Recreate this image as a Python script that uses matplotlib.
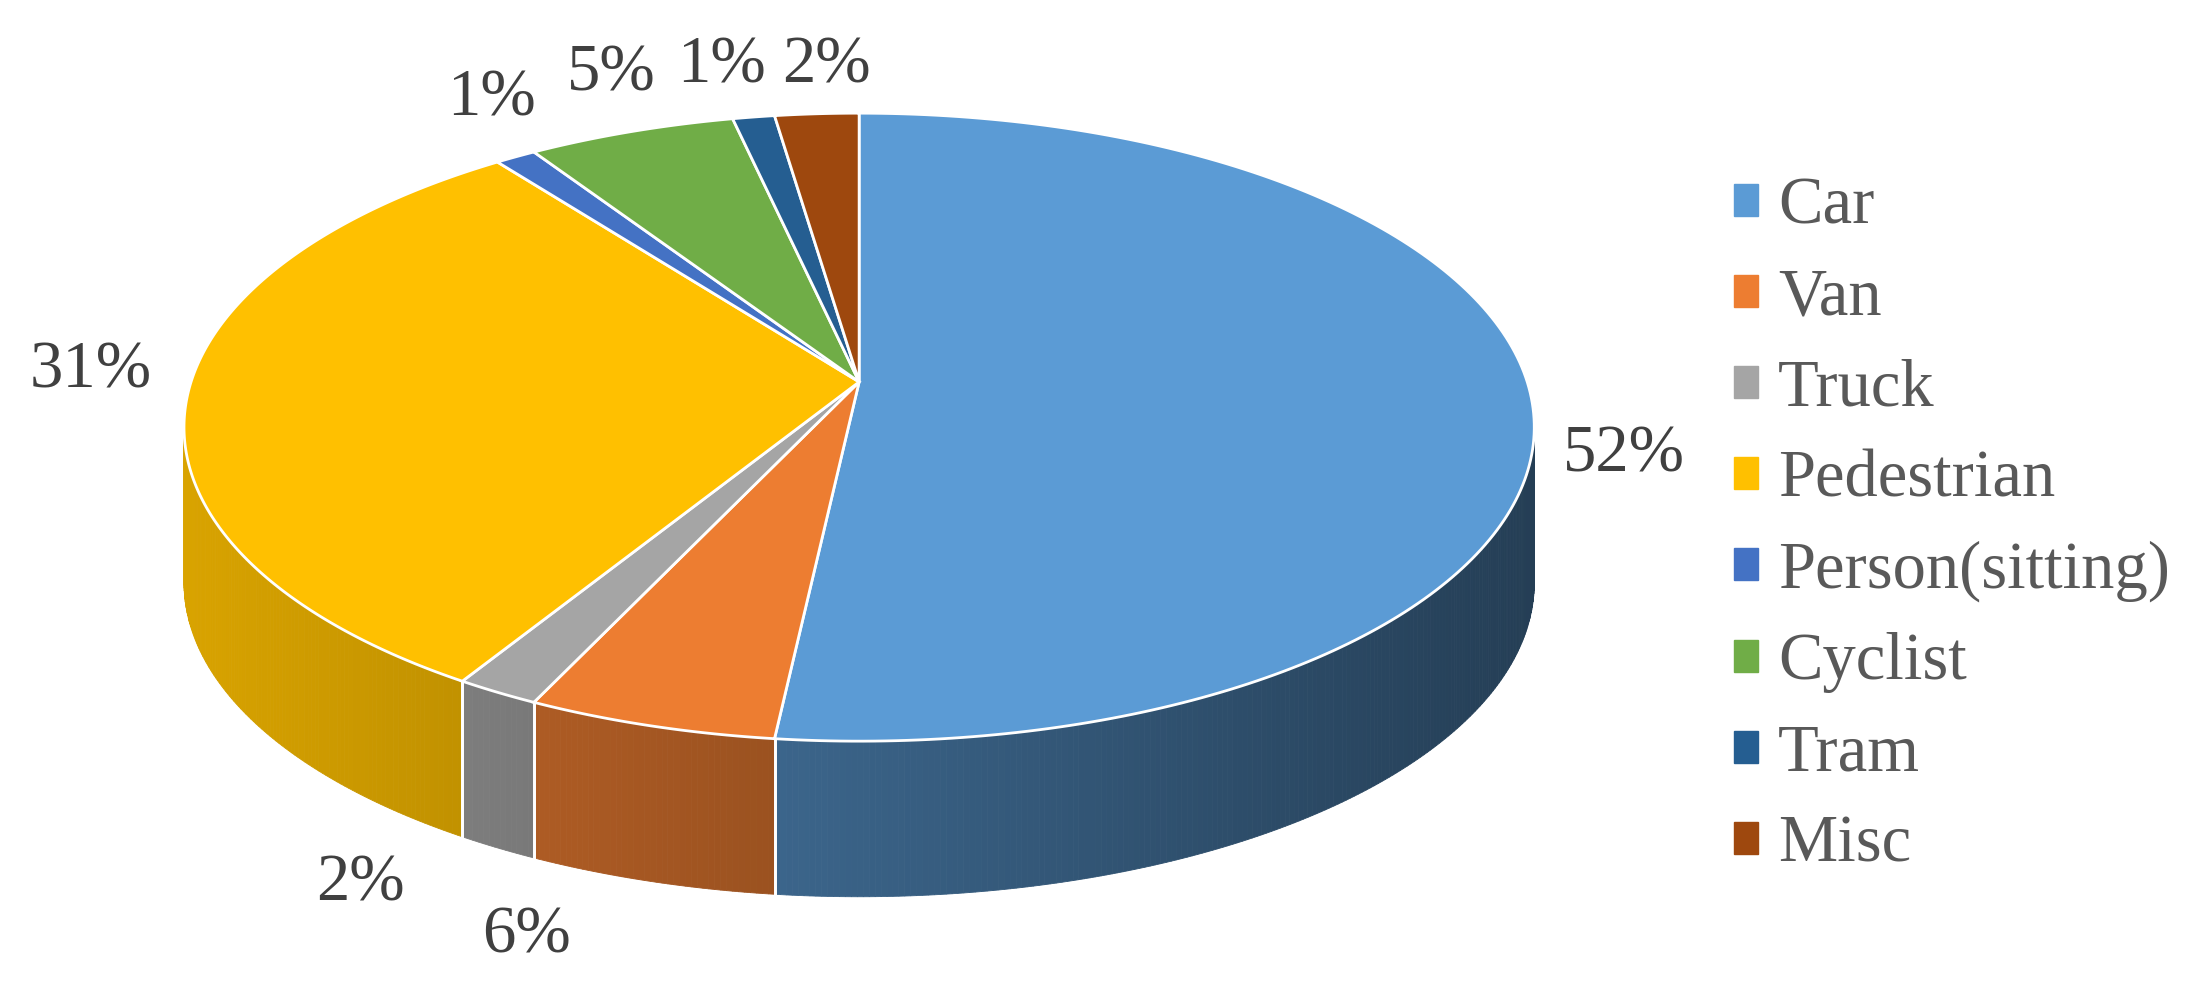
import matplotlib.pyplot as plt
import matplotlib.patches as mpatches
import numpy as np
import matplotlib.colors as mc

labels = ['Car', 'Van', 'Truck', 'Pedestrian', 'Person(sitting)', 'Cyclist', 'Tram', 'Misc']
shares = [52, 6, 2, 31, 1, 5, 1, 2]
colors = ['#5b9bd5', '#ed7d31', '#a5a5a5', '#ffc000', '#4472c4', '#70ad47', '#255e91', '#9e480e']

plt.rcParams['font.family'] = ['Liberation Serif', 'DejaVu Serif']

W, H = 1560, 707
cx, cy, rx, ry, depth = 607, 302, 477, 222, 110
apex = (607, 270)

fig = plt.figure(figsize=(22.08, 10), dpi=100)
ax = fig.add_axes([0, 0, 1, 1])
ax.set_xlim(0, W)
ax.set_ylim(H, 0)
ax.axis('off')

def pt(t, d=0.0):
    r = np.radians(t)
    return cx + rx * np.sin(r), cy - ry * np.cos(r) + d

total = sum(shares)
bounds = np.concatenate([[0], np.cumsum(shares)]) / total * 360

# side walls, front half only
for i, c in enumerate(colors):
    a0, a1 = max(bounds[i], 90), min(bounds[i + 1], 270)
    if a1 <= a0:
        continue
    ts = np.linspace(a0, a1, max(2, int((a1 - a0) * 2)))
    base = np.array(mc.to_rgb(c))
    for t0, t1 in zip(ts[:-1], ts[1:]):
        x0, y0 = pt(t0)
        x1, y1 = pt(t1)
        f = 0.85 - 0.45 * ((x0 + x1) / 2 - (cx - rx)) / (2 * rx)
        poly = [(x0, y0), (x1, y1), (x1, y1 + depth), (x0, y0 + depth)]
        ax.add_patch(mpatches.Polygon(poly, closed=True, fc=base * f, ec=base * f, lw=0.6))
    for t in (a0, a1):
        if t in (bounds[i], bounds[i + 1]) and 90 < t < 270:
            x, y = pt(t)
            ax.plot([x, x], [y, y + depth], color='white', lw=2)

# top face
for i, c in enumerate(colors):
    ts = np.linspace(bounds[i], bounds[i + 1], 200)
    x, y = pt(ts)
    poly = np.column_stack([np.r_[apex[0], x], np.r_[apex[1], y]])
    ax.add_patch(mpatches.Polygon(poly, closed=True, fc=c, ec='white', lw=2))

# percent labels
label_xy = [(1147, 322), (372, 662), (255, 625), (64, 262),
            (347, 70), (432, 52), (510, 47), (584, 47)]
for (x, y), s in zip(label_xy, shares):
    ax.text(x, y, f'{s}%', fontsize=48, color='#404040', ha='center', va='center')

handles = [mpatches.Patch(color=c, label=l) for c, l in zip(colors, labels)]
ax.legend(handles=handles, loc='center left', bbox_to_anchor=(1225 / W, 1 - 372 / H),
          frameon=False, borderpad=0, borderaxespad=0,
          fontsize=48, labelcolor='#595959', handlelength=0.36, handleheight=0.36,
          handletextpad=0.3, labelspacing=0.45)

fig.savefig('out.png', dpi=100)
